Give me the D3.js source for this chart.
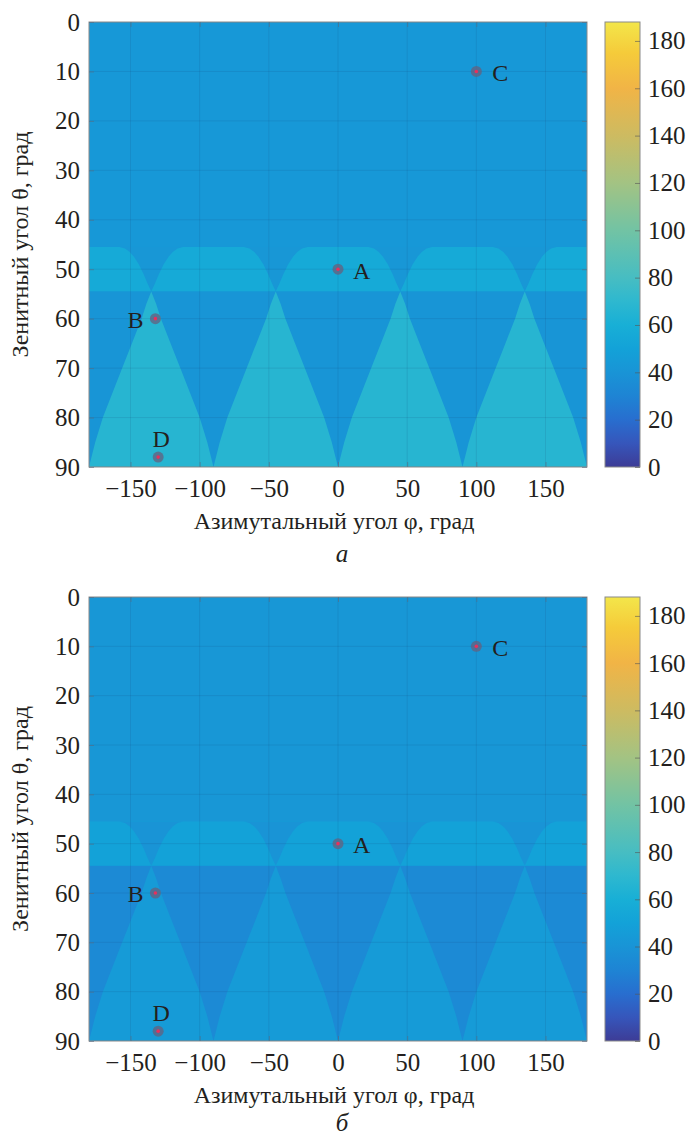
<!DOCTYPE html>
<meta charset="utf-8">
<head>
<script src="https://d3js.org/d3.v7.min.js"></script>
<style>
  html, body { margin: 0; background: #fff; }
  text { font-family: "Liberation Serif", "DejaVu Serif", serif; fill: #231f20; }
</style>
</head>
<body>
<svg id="chart" width="689" height="1138"></svg>
<script>

// axis ticks
var phiTicks = [-150, -100, -50, 0, 50, 100, 150],
    thetaTicks = [0, 10, 20, 30, 40, 50, 60, 70, 80, 90],
    cbTicks = [0, 20, 40, 60, 80, 100, 120, 140, 160, 180];

// colour map (value -> colour)
var cmapValues = [0, 10, 20, 30, 40, 50, 60, 70, 80, 100, 120, 140, 160, 175, 188],
    cmapColors = ["#3d3c96", "#3656bb", "#286ecf", "#1e84d4", "#1994d6", "#13a2d8", "#18afd6",
                  "#2eb8cf", "#47bdc2", "#72c3a4", "#a3c383", "#cdbb61", "#f1b446", "#f5cb3a", "#f3e64a"];

// pattern boundaries: centres of the notches / spikes, and their half-width (deg) vs zenith angle
var notchCenters = [-135, -45, 45, 135];
var notchTheta = [45.5, 45.8, 46.5, 47.5, 49, 51, 53, 54.5],
    notchHalf  = [23, 19, 15.5, 12.5, 9, 5.5, 2.5, 0];
var spikeTheta = [54.5, 57, 60, 65, 70, 75, 80, 85, 90],
    spikeHalf  = [0, 3.5, 7, 14, 21, 28, 35, 40.5, 45];
var bandTop = 45.5, bandBottom = 54.5;

// region values: top, notch, dome, lower background, spike
var valuesA = [43, 42, 56, 41, 67],
    valuesB = [42, 40, 50, 34, 45];

// marked points
var pointNames = ["A", "B", "C", "D"],
    pointPhi   = [0, -132, 100, -130],
    pointTheta = [50, 60, 10, 88];

var svg = d3.select("#chart");

var left = 89, right = 587,
    cbLeft = 605, cbRight = 640,
    cbMax = 188;

var color = d3.scaleLinear().domain(cmapValues).range(cmapColors).interpolate(d3.interpolateRgb).clamp(true);

var x = d3.scaleLinear().domain([-180, 180]).range([left, right]);

// gradient for colour bar
var defs = svg.append("defs");
var grad = defs.append("linearGradient").attr("id", "cbgrad")
    .attr("x1", 0).attr("y1", 1).attr("x2", 0).attr("y2", 0);
grad.selectAll("stop").data(cmapValues).enter().append("stop")
    .attr("offset", function(d) { return d / cbMax; })
    .attr("stop-color", function(d, i) { return cmapColors[i]; });

function drawPanel(top, bottom, vals, letter, letterY, id) {
  var y = d3.scaleLinear().domain([0, 90]).range([top, bottom]);
  var g = svg.append("g");

  defs.append("clipPath").attr("id", "clip" + id)
    .append("rect").attr("x", left).attr("y", top).attr("width", right - left).attr("height", bottom - top);

  var area = g.append("g").attr("clip-path", "url(#clip" + id + ")");

  // top background
  area.append("rect").attr("x", x(-180)).attr("y", y(0))
      .attr("width", x(180) - x(-180)).attr("height", y(90) - y(0))
      .attr("fill", color(vals[0]));
  // dome band
  area.append("rect").attr("x", x(-180)).attr("y", y(bandTop))
      .attr("width", x(180) - x(-180)).attr("height", y(bandBottom) - y(bandTop))
      .attr("fill", color(vals[2]));
  // lower background
  area.append("rect").attr("x", x(-180)).attr("y", y(bandBottom))
      .attr("width", x(180) - x(-180)).attr("height", y(90) - y(bandBottom))
      .attr("fill", color(vals[3]));

  var line = d3.line().x(function(d) { return x(d[0]); }).y(function(d) { return y(d[1]); });

  function shape(c, thetas, halves) {
    var pts = [];
    thetas.forEach(function(t, i) { pts.push([c - halves[i], t]); });
    for (var i = thetas.length - 1; i >= 0; i--) pts.push([c + halves[i], thetas[i]]);
    return line(pts) + "Z";
  }

  area.selectAll(".notch").data(notchCenters).enter().append("path")
      .attr("d", function(c) { return shape(c, notchTheta, notchHalf); })
      .attr("fill", color(vals[1]));

  area.selectAll(".spike").data(notchCenters).enter().append("path")
      .attr("d", function(c) { return shape(c, spikeTheta, spikeHalf); })
      .attr("fill", color(vals[4]));

  // grid
  area.selectAll(".vg").data(phiTicks).enter().append("line")
      .attr("x1", function(d) { return x(d); }).attr("x2", function(d) { return x(d); })
      .attr("y1", top).attr("y2", bottom)
      .attr("stroke", "#1a3a6a").attr("stroke-opacity", 0.12);
  area.selectAll(".hg").data(thetaTicks).enter().append("line")
      .attr("x1", left).attr("x2", right)
      .attr("y1", function(d) { return y(d); }).attr("y2", function(d) { return y(d); })
      .attr("stroke", "#1a3a6a").attr("stroke-opacity", 0.12);

  // points
  var pts = area.selectAll(".pt").data(pointNames).enter().append("g");
  pts.append("circle")
      .attr("cx", function(d, i) { return x(pointPhi[i]); })
      .attr("cy", function(d, i) { return y(pointTheta[i]); })
      .attr("r", 5.5).attr("fill", "#66607e").attr("fill-opacity", 0.75);
  pts.append("circle")
      .attr("cx", function(d, i) { return x(pointPhi[i]); })
      .attr("cy", function(d, i) { return y(pointTheta[i]); })
      .attr("r", 1.8).attr("fill", "#e8305c");

  var labDx = [15, -12, 16, 3], labDy = [1, 1, 1, -19],
      labAnchor = ["start", "end", "start", "middle"];
  g.selectAll(".plab").data(pointNames).enter().append("text")
      .attr("x", function(d, i) { return x(pointPhi[i]) + labDx[i]; })
      .attr("y", function(d, i) { return y(pointTheta[i]) + labDy[i]; })
      .attr("dy", "0.35em")
      .attr("text-anchor", function(d, i) { return labAnchor[i]; })
      .attr("font-size", 24)
      .text(function(d) { return d; });

  // box
  g.append("rect").attr("x", left).attr("y", top).attr("width", right - left).attr("height", bottom - top)
      .attr("fill", "none").attr("stroke", "#8a8a8a").attr("stroke-width", 1);

  // axes
  var xa = g.append("g").attr("transform", "translate(0," + bottom + ")")
      .call(d3.axisBottom(x).tickValues(phiTicks).tickSizeInner(-5).tickSizeOuter(0).tickPadding(12));
  var xt = g.append("g").attr("transform", "translate(0," + top + ")")
      .call(d3.axisTop(x).tickValues(phiTicks).tickSizeInner(-5).tickSizeOuter(0).tickFormat(""));
  var ya = g.append("g").attr("transform", "translate(" + left + ",0)")
      .call(d3.axisLeft(y).tickValues(thetaTicks).tickSizeInner(-5).tickSizeOuter(0).tickPadding(9));
  var yr = g.append("g").attr("transform", "translate(" + right + ",0)")
      .call(d3.axisRight(y).tickValues(thetaTicks).tickSizeInner(-5).tickSizeOuter(0).tickFormat(""));
  [xa, xt, ya, yr].forEach(function(a) {
    a.select(".domain").remove();
    a.selectAll(".tick line").attr("stroke", "#5a6a80").attr("stroke-opacity", 0.6);
    a.selectAll(".tick text").attr("font-size", 25).attr("font-family", "Liberation Serif").attr("fill", "#231f20");
  });

  // axis titles
  g.append("text").attr("x", (left + right) / 2 - 4).attr("y", bottom + 62)
      .attr("text-anchor", "middle").attr("font-size", 24)
      .text("Азимутальный угол φ, град");
  g.append("text")
      .attr("transform", "translate(28," + ((top + bottom) / 2) + ") rotate(-90)")
      .attr("text-anchor", "middle").attr("font-size", 24)
      .text("Зенитный угол θ, град");
  g.append("text").attr("x", 342).attr("y", letterY)
      .attr("text-anchor", "middle").attr("font-size", 25).attr("font-style", "italic")
      .text(letter);

  // colour bar
  var cy = d3.scaleLinear().domain([0, cbMax]).range([bottom, top]);
  g.append("rect").attr("x", cbLeft).attr("y", top).attr("width", cbRight - cbLeft).attr("height", bottom - top)
      .attr("fill", "url(#cbgrad)").attr("stroke", "#8a8a8a").attr("stroke-width", 1);
  var ca = g.append("g").attr("transform", "translate(" + cbRight + ",0)")
      .call(d3.axisRight(cy).tickValues(cbTicks).tickSizeInner(-5).tickSizeOuter(0).tickPadding(8));
  ca.select(".domain").remove();
  ca.selectAll(".tick line").attr("stroke", "#555").attr("stroke-opacity", 0.6);
  ca.selectAll(".tick text").attr("font-size", 25).attr("font-family", "Liberation Serif").attr("fill", "#231f20");
}

drawPanel(22, 467, valuesA, "а", 562, "a");
drawPanel(597, 1041, valuesB, "б", 1131, "b");

</script>
</body>
